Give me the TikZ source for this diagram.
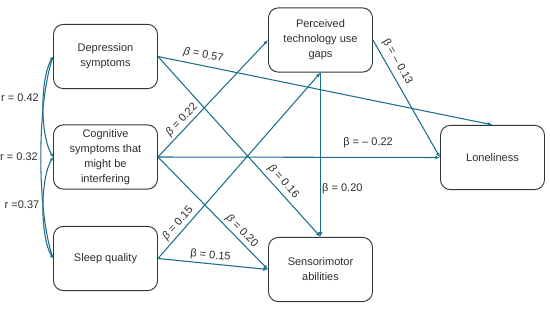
\documentclass[tikz,border=0pt]{standalone}
\usepackage{fontspec}
\setmainfont{Liberation Sans}
\usepackage{xcolor}
\usetikzlibrary{arrows.meta}
\definecolor{cPfad}{RGB}{28,110,140}
\definecolor{cRand}{RGB}{45,55,62}
\definecolor{cText}{RGB}{45,45,45}

\begin{document}
\begin{tikzpicture}[x=0.03cm,y=-0.03cm,font=\fontsize{9.4}{12.8}\selectfont,
  box/.style={draw=cRand,line width=0.8pt,rounded corners=0.3cm,minimum width=3.12cm,minimum height=1.93cm,align=center,text=cText},
  pfad/.style={cPfad,line width=0.9pt,-{Latex[length=4pt,width=3.2pt]}},
  kor/.style={cPfad,line width=0.9pt,{Latex[length=3pt,width=2.6pt]}-{Latex[length=3pt,width=2.6pt]}},
  lab/.style={text=cText,inner sep=2pt}]
\useasboundingbox (0,0) rectangle (550,309);
% Praediktoren links
\node[box] (dep) at (105.5,56.5) {Depression\\symptoms};
\node[box] (cog) at (105.5,157) {Cognitive\\symptoms that\\might be\\interfering};
\node[box] (sleep) at (105.5,258.5) {Sleep quality};
% Mediatoren und Ergebnis
\node[box] (tech) at (320.5,40) {Perceived\\technology use\\gaps};
\node[box] (senso) at (320.5,269.5) {Sensorimotor\\abilities};
\node[box] (lonely) at (492.5,157.5) {Loneliness};
% Korrelationen
\draw[kor] (dep.west) .. controls +(-13,22) and +(-13,-22) .. (cog.west);
\draw[kor] (cog.west) .. controls +(-13,22) and +(-13,-22) .. (sleep.west);
\draw[kor] (dep.west) .. controls +(-16,50) and +(-16,-50) .. (sleep.west);
\node[lab] (r42) at (20,98) {r = 0.42};
\node[lab] (r32) at (19,157) {r = 0.32};
\node[lab] (r37) at (22,205) {r =0.37};
% Pfade
\draw[pfad] (dep.east) -- (lonely.north) node[lab,pos=0.13,sloped,above=2pt] (b57) {{\itshape β} = 0.57};
\draw[pfad] (dep.east) -- (senso.north) node[lab,pos=0.73,sloped,above=1pt] (b16) {{\itshape β} = 0.16};
\draw[pfad] (cog.east) -- (tech.west) node[lab,pos=0.27,sloped,above] (b22) {{\itshape β} = 0.22};
\draw[pfad] (cog.east) -- (lonely.west) node[lab,pos=0.745,above=5.6pt] (bm22) {β = – 0.22};
\draw[pfad] (cog.east) -- (senso.west) node[lab,pos=0.71,sloped,above] (b20) {{\itshape β} = 0.20};
\draw[pfad] (sleep.east) -- (tech.south) node[lab,pos=0.16,sloped,above] (b15) {{\itshape β} = 0.15};
\draw[pfad] (sleep.east) -- (senso.west) node[lab,pos=0.47,sloped,above] (bs15) {β = 0.15};
\draw[pfad] (tech.south) -- (senso.north) node[lab,pos=0.707,right,inner sep=1pt] (bv20) {β = 0.20};
\draw[pfad] (tech.east) -- (lonely.west) node[lab,pos=0.23,sloped,above=2pt] (bm13) {β = – 0.13};
\end{tikzpicture}
\end{document}
